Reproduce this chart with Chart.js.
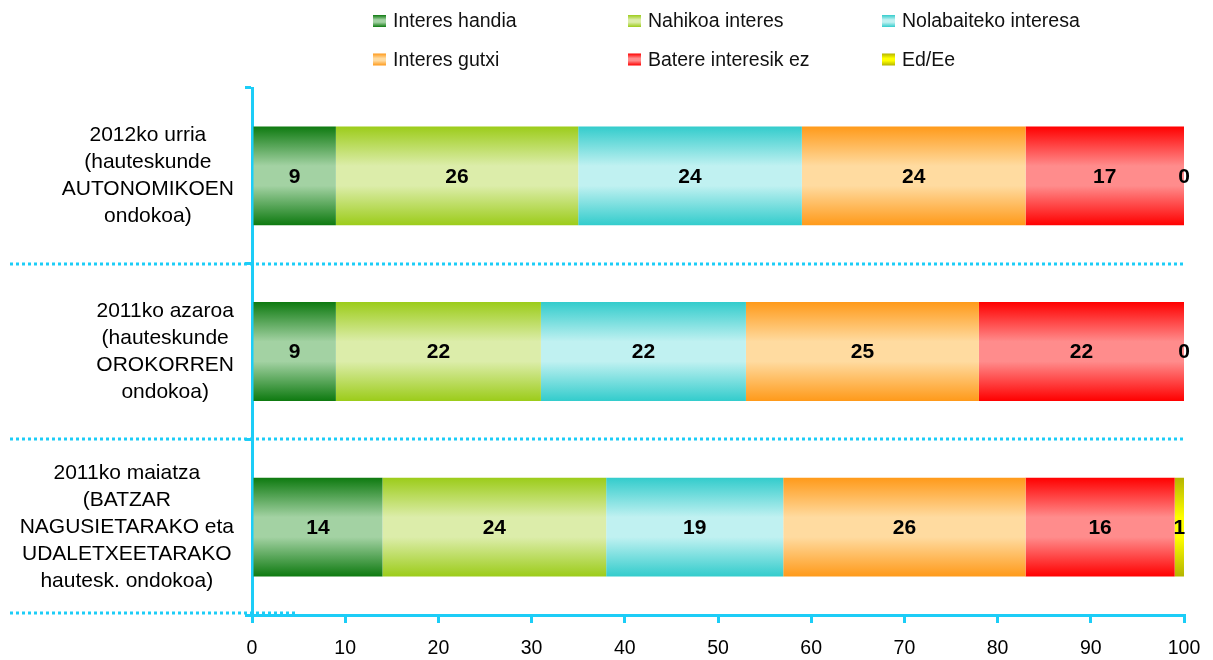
<!DOCTYPE html>
<html>
<head>
<meta charset="utf-8">
<script src="https://cdn.jsdelivr.net/npm/chart.js@4"></script>
<style>
  html, body { margin: 0; padding: 0; background: #fff; }
  #wrap { width: 1213px; height: 660px; position: relative; }
</style>
</head>
<body>
<div id="wrap"><canvas id="chart" width="1213" height="660"></canvas></div>
<script>
// categories (top to bottom) and their label lines
const categories = [
  ["2012ko urria", "(hauteskunde", "AUTONOMIKOEN", "ondokoa)"],
  ["2011ko azaroa", "(hauteskunde", "OROKORREN", "ondokoa)"],
  ["2011ko maiatza", "(BATZAR", "NAGUSIETARAKO eta", "UDALETXEETARAKO", "hautesk. ondokoa)"]
];

const seriesNames = ["Interes handia", "Nahikoa interes", "Nolabaiteko interesa",
                     "Interes gutxi", "Batere interesik ez", "Ed/Ee"];

const interesHandia = [9, 9, 14];
const nahikoaInteres = [26, 22, 24];
const nolabaitekoInteresa = [24, 22, 19];
const interesGutxi = [24, 25, 26];
const batereInteresikEz = [17, 22, 16];
const edEe = [0, 0, 1];

const xMin = 0, xMax = 100, xStep = 10;

// gradient colours: edge (top/bottom) and middle
const edgeColors = ["#0e7a10", "#9ccc1a", "#33cccc", "#ff9a1a", "#ff0000", "#b4b400"];
const midColors  = ["#a3d2a3", "#dcedaa", "#c0f1f1", "#ffdba0", "#ff8c8c", "#ffff00"];

const AXIS = "#1ccdf7";
const FONT = "'Liberation Sans', Arial, sans-serif";
const BAR_PCT = 0.563;

function makeGradient(ctx2d, y0, y1, i) {
  const g = ctx2d.createLinearGradient(0, y0, 0, y1);
  g.addColorStop(0, edgeColors[i]);
  g.addColorStop(0.4, midColors[i]);
  g.addColorStop(0.6, midColors[i]);
  g.addColorStop(1, edgeColors[i]);
  return g;
}

function barFill(i) {
  return (c) => {
    const chart = c.chart;
    const area = chart.chartArea;
    if (!area || c.dataIndex === undefined) return edgeColors[i];
    const yc = chart.scales.y.getPixelForValue(c.dataIndex);
    const half = (area.bottom - area.top) / categories.length * BAR_PCT / 2;
    return makeGradient(chart.ctx, yc - half, yc + half, i);
  };
}

const seriesData = [interesHandia, nahikoaInteres, nolabaitekoInteresa,
                    interesGutxi, batereInteresikEz, edEe];

const decorations = {
  id: "decorations",
  beforeDatasetsDraw(chart) {
    const ctx = chart.ctx;
    const area = chart.chartArea;
    const ys = chart.scales.y;
    const step = (area.bottom - area.top) / categories.length;
    ctx.save();
    // dotted separators between categories
    ctx.strokeStyle = AXIS;
    ctx.lineWidth = 3;
    ctx.setLineDash([3, 3]);
    for (let k = 1; k < categories.length; k++) {
      const y = Math.round(area.top + step * k);
      ctx.beginPath();
      ctx.moveTo(10, y);
      ctx.lineTo(area.right, y);
      ctx.stroke();
    }
    ctx.beginPath();
    ctx.moveTo(10, area.bottom - 2);
    ctx.lineTo(298, area.bottom - 2);
    ctx.stroke();
    ctx.setLineDash([]);

    // category labels
    ctx.font = "21px " + FONT;
    ctx.fillStyle = "#000";
    ctx.textAlign = "center";
    ctx.textBaseline = "middle";
    const lh = 27;
    categories.forEach((lines, idx) => {
      const yc = ys.getPixelForValue(idx);
      const widest = Math.max(...lines.map(l => ctx.measureText(l).width));
      const cx = 234 - widest / 2;
      const y0 = yc - (lines.length - 1) * lh / 2;
      lines.forEach((l, j) => ctx.fillText(l, cx, y0 + j * lh));
    });
    ctx.restore();
  },
  afterDatasetsDraw(chart) {
    const ctx = chart.ctx;
    ctx.save();
    ctx.font = "bold 21px " + FONT;
    ctx.fillStyle = "#000";
    ctx.textAlign = "center";
    ctx.textBaseline = "middle";
    chart.data.datasets.forEach((ds, i) => {
      const meta = chart.getDatasetMeta(i);
      meta.data.forEach((el, j) => {
        const x = (el.x + el.base) / 2;
        ctx.fillText(String(ds.data[j]), x, el.y + 1);
      });
    });

    // legend, 3 columns x 2 rows
    const colX = [373, 628, 882];
    const rowY = [21, 59.5];
    ctx.font = "19.5px " + FONT;
    ctx.textAlign = "left";
    seriesNames.forEach((name, i) => {
      const x = colX[i % 3];
      const y = rowY[Math.floor(i / 3)];
      ctx.fillStyle = makeGradient(ctx, y - 6, y + 6, i);
      ctx.fillRect(x, y - 6, 13, 12);
      ctx.fillStyle = "#111";
      ctx.fillText(name, x + 20, y + 1);
    });
    ctx.restore();
  }
};

new Chart(document.getElementById("chart"), {
  type: "bar",
  data: {
    labels: categories.map(l => l.join(" ")),
    datasets: seriesNames.map((name, i) => ({
      label: name,
      data: seriesData[i],
      backgroundColor: barFill(i),
      borderWidth: 0,
      barPercentage: BAR_PCT,
      categoryPercentage: 1
    }))
  },
  options: {
    indexAxis: "y",
    responsive: false,
    animation: false,
    devicePixelRatio: 1,
    layout: { padding: { left: 0, top: 88, right: 29, bottom: 0 } },
    plugins: { legend: { display: false }, tooltip: { enabled: false } },
    scales: {
      x: {
        stacked: true,
        min: xMin,
        max: xMax,
        afterFit: (s) => { s.height = 45; s.paddingLeft = 0; s.paddingRight = 0; },
        ticks: { stepSize: xStep, color: "#000", padding: 14, font: { family: FONT, size: 19.5 } },
        grid: { drawOnChartArea: false, drawTicks: true, tickLength: 8, color: AXIS, lineWidth: 3 },
        border: { display: true, color: AXIS, width: 3 }
      },
      y: {
        stacked: true,
        afterFit: (s) => { s.width = 252; s.paddingTop = 0; s.paddingBottom = 0; },
        ticks: { display: false },
        grid: { offset: true, drawOnChartArea: false, drawTicks: true, tickLength: 7, color: AXIS, lineWidth: 3 },
        border: { display: true, color: AXIS, width: 3 }
      }
    }
  },
  plugins: [decorations]
});
</script>
</body>
</html>
